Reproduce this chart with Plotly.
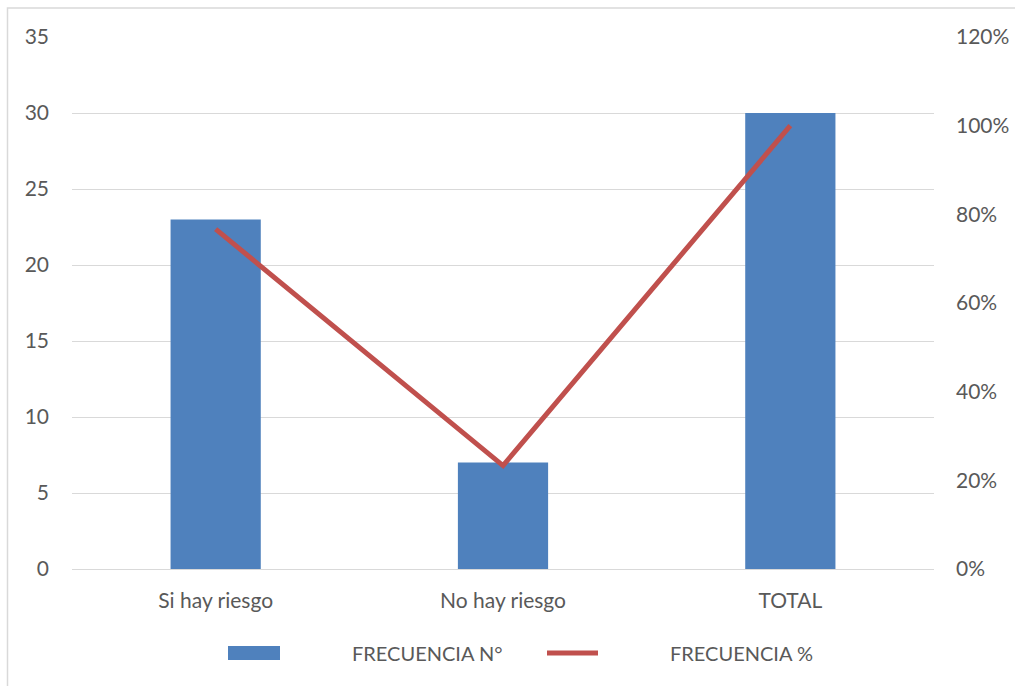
import plotly.graph_objects as go

# Datos del gráfico
categorias = ["Si hay riesgo", "No hay riesgo", "TOTAL"]
frecuencia_n = [23, 7, 30]
frecuencia_pct = [0.7667, 0.2333, 1.0]

ticks_izq = [0, 5, 10, 15, 20, 25, 30, 35]
ticks_der = [0, 0.2, 0.4, 0.6, 0.8, 1.0, 1.2]

AZUL = "#4F81BD"
ROJO = "#C0504D"
GRIS_TXT = "#595959"
GRIS_LIN = "#D9D9D9"
FUENTE = "Lato, 'Open Sans', sans-serif"

W, H = 1015, 686
ML, MR, MT, MB = 72, 81, 37, 117
PW, PH = W - ML - MR, H - MT - MB


def px_x(p):
    return (p - ML) / PW


def px_y(p):
    return (H - MB - p) / PH


fig = go.Figure()
fig.add_trace(go.Bar(
    x=categorias, y=frecuencia_n, name="FRECUENCIA N°",
    marker=dict(color=AZUL, line=dict(width=0)),
    yaxis="y", showlegend=False,
))
fig.add_trace(go.Scatter(
    x=categorias, y=frecuencia_pct, name="FRECUENCIA %",
    mode="lines", line=dict(color=ROJO, width=5),
    yaxis="y2", showlegend=False,
))

# Leyenda dibujada a mano (rectángulo ancho y línea gruesa)
ley_y = 653
shapes = [
    dict(type="rect", xref="paper", yref="paper",
         x0=px_x(7.5), x1=px_x(1020), y0=px_y(690), y1=px_y(8),
         line=dict(color=GRIS_LIN, width=1.5), fillcolor="rgba(0,0,0,0)", layer="below"),
    dict(type="rect", xref="paper", yref="paper",
         x0=px_x(228), x1=px_x(280), y0=px_y(660), y1=px_y(646),
         line=dict(width=0), fillcolor=AZUL),
    dict(type="line", xref="paper", yref="paper",
         x0=px_x(547), x1=px_x(598), y0=px_y(ley_y), y1=px_y(ley_y),
         line=dict(color=ROJO, width=5)),
]
annotations = [
    dict(text="FRECUENCIA N°", xref="paper", yref="paper", x=px_x(350), y=px_y(ley_y),
         xanchor="left", yanchor="middle", showarrow=False,
         font=dict(family=FUENTE, size=20, color=GRIS_TXT)),
    dict(text="FRECUENCIA %", xref="paper", yref="paper", x=px_x(668), y=px_y(ley_y),
         xanchor="left", yanchor="middle", showarrow=False,
         font=dict(family=FUENTE, size=20, color=GRIS_TXT)),
]

fig.update_layout(
    width=W, height=H,
    margin=dict(l=ML, r=MR, t=MT, b=MB, autoexpand=False),
    paper_bgcolor="white", plot_bgcolor="white",
    bargap=0.686,
    showlegend=False,
    font=dict(family=FUENTE, size=21, color=GRIS_TXT),
    xaxis=dict(
        type="category", showgrid=False, showline=False, zeroline=False,
        ticks="", ticklabelstandoff=17, automargin=False,
        tickfont=dict(family=FUENTE, size=21, color=GRIS_TXT),
    ),
    yaxis=dict(
        range=[0, 35], tickvals=ticks_izq, showgrid=True, gridcolor=GRIS_LIN,
        gridwidth=1, zeroline=True, zerolinecolor=GRIS_LIN, zerolinewidth=1,
        showline=False, ticks="", ticklabelstandoff=22, automargin=False,
        tickfont=dict(family=FUENTE, size=21, color=GRIS_TXT),
    ),
    yaxis2=dict(
        range=[0, 1.2], tickvals=ticks_der, tickformat=".0%", overlaying="y",
        side="right", showgrid=False, zeroline=False, showline=False,
        ticks="", ticklabelstandoff=21, automargin=False,
        tickfont=dict(family=FUENTE, size=21, color=GRIS_TXT),
    ),
    shapes=shapes,
    annotations=annotations,
)

fig.write_html("out.html")
